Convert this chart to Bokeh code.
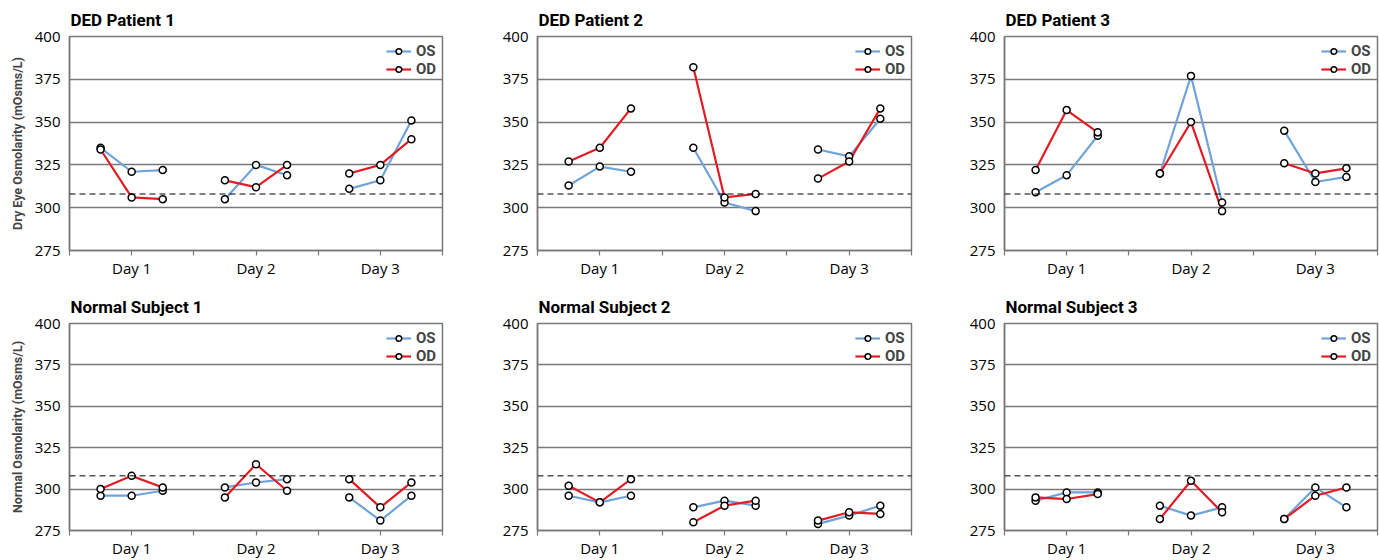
from bokeh.plotting import figure
from bokeh.layouts import gridplot
from bokeh.models import Range1d, FixedTicker, Span, Legend, LegendItem
from bokeh.embed import file_html
from bokeh.resources import INLINE

# ---------------- data ----------------
days = ["Day 1", "Day 2", "Day 3"]
readings_per_day = 3
y_ticks = [275, 300, 325, 350, 375, 400]
threshold = 308

titles = ["DED Patient 1", "DED Patient 2", "DED Patient 3",
          "Normal Subject 1", "Normal Subject 2", "Normal Subject 3"]
row_labels = ["Dry Eye Osmolarity (mOsms/L)", "Normal Osmolarity (mOsms/L)"]
series_names = ["OS", "OD"]

# three readings per day, Day 1..Day 3
ded1_os = [335, 321, 322, 305, 325, 319, 311, 316, 351]
ded1_od = [334, 306, 305, 316, 312, 325, 320, 325, 340]
ded2_os = [313, 324, 321, 335, 303, 298, 334, 330, 352]
ded2_od = [327, 335, 358, 382, 306, 308, 317, 327, 358]
ded3_os = [309, 319, 342, 320, 377, 303, 345, 315, 318]
ded3_od = [322, 357, 344, 320, 350, 298, 326, 320, 323]
norm1_os = [296, 296, 299, 301, 304, 306, 295, 281, 296]
norm1_od = [300, 308, 301, 295, 315, 299, 306, 289, 304]
norm2_os = [296, 292, 296, 289, 293, 290, 279, 284, 290]
norm2_od = [302, 292, 306, 280, 290, 293, 281, 286, 285]
norm3_os = [293, 298, 298, 290, 284, 289, 282, 301, 289]
norm3_od = [295, 294, 297, 282, 305, 286, 282, 296, 301]

panel_data = [(ded1_os, ded1_od), (ded2_os, ded2_od), (ded3_os, ded3_od),
              (norm1_os, norm1_od), (norm2_os, norm2_od), (norm3_os, norm3_od)]

# ---------------- style ----------------
BLUE = "#6fa3d9"
RED = "#e31b23"
GRID = "#787878"
COND = "Roboto"
TICKF = "Open Sans"

col_layout = [  # (width, border_left, border_right)
    (497, 69, 55),
    (467, 40, 53),
    (415, 40, 2),
]
row_layout = [  # (height, border_top, border_bottom)
    (280, 36, 30),
    (280, 43, 23),
]


def day_positions(d):
    return [d + (k + 1) / (readings_per_day + 1) for k in range(readings_per_day)]


def make_panel(idx):
    r, c = divmod(idx, 3)
    w, bl, br = col_layout[c]
    h, bt, bb = row_layout[r]
    os_vals, od_vals = panel_data[idx]
    p = figure(width=w, height=h, x_range=Range1d(0, len(days)),
               y_range=Range1d(y_ticks[0], y_ticks[-1]),
               output_backend="svg", toolbar_location=None,
               min_border_left=bl, min_border_right=br,
               min_border_top=bt, min_border_bottom=bb)
    p.background_fill_color = "white"
    p.border_fill_color = "white"
    p.outline_line_color = GRID
    p.outline_line_width = 1.5

    # title
    p.title.text = titles[idx]
    p.title.text_font = COND
    p.title.text_font_style = "bold"
    p.title.text_font_size = "17px"
    p.title.align = "left"
    p.title.text_color = "black"
    p.title.offset = 1
    p.title.standoff = 13

    # axes
    ticks = [i * 0.5 for i in range(2 * len(days) + 1)]
    p.xaxis.ticker = FixedTicker(ticks=ticks)
    overrides = {t: "" for t in ticks}
    for d, name in enumerate(days):
        overrides[d + 0.5] = name
    p.xaxis.major_label_overrides = overrides
    p.xaxis.major_tick_out = 5
    p.xaxis.major_tick_in = 0
    p.xaxis.minor_tick_line_color = None
    p.xaxis.axis_line_color = GRID
    p.xaxis.axis_line_width = 1.5
    p.xaxis.major_tick_line_color = GRID
    p.xaxis.major_tick_line_width = 1.2
    p.xaxis.major_label_text_font = TICKF
    p.xaxis.major_label_text_font_size = "15px"
    p.xaxis.major_label_text_color = "black"
    p.xaxis.major_label_standoff = 2

    p.yaxis.ticker = FixedTicker(ticks=y_ticks)
    p.yaxis.major_tick_out = 0
    p.yaxis.major_tick_in = 0
    p.yaxis.minor_tick_line_color = None
    p.yaxis.axis_line_color = GRID
    p.yaxis.axis_line_width = 1.5
    p.yaxis.major_label_text_font = TICKF
    p.yaxis.major_label_text_font_size = "15px"
    p.yaxis.major_label_text_color = "black"
    p.yaxis.major_label_standoff = 9
    if c == 0:
        p.yaxis.axis_label = row_labels[r]
        p.yaxis.axis_label_text_font = COND
        p.yaxis.axis_label_text_font_style = "bold"
        p.yaxis.axis_label_text_font_size = "12.5px"
        p.yaxis.axis_label_standoff = 7

    p.xgrid.grid_line_color = None
    p.ygrid.ticker = FixedTicker(ticks=y_ticks[1:-1])
    p.ygrid.grid_line_color = GRID
    p.ygrid.grid_line_width = 1.6

    p.add_layout(Span(location=threshold, dimension="width", line_color="black",
                      line_width=1, line_dash="6 4"))

    xs = [day_positions(d) for d in range(len(days))]
    items = []
    rends = {}
    for name, vals, color in (("OS", os_vals, BLUE), ("OD", od_vals, RED)):
        ys = [vals[d * readings_per_day:(d + 1) * readings_per_day] for d in range(len(days))]
        lr = p.multi_line(xs=xs, ys=ys, line_color=color, line_width=2.2)
        rends[name] = [lr, ys]
    for name in ("OS", "OD"):
        lr, ys = rends[name]
        flat_x = [x for xx in xs for x in xx]
        flat_y = [y for yy in ys for y in yy]
        sr = p.scatter(x=flat_x, y=flat_y, marker="circle", size=7,
                       fill_color="white", line_color="black", line_width=1.5)
        items.append(LegendItem(label=name, renderers=[lr, sr]))

    legend = Legend(items=items, location="top_right",
                    border_line_color=None, background_fill_alpha=0,
                    label_text_font=COND, label_text_font_style="bold",
                    label_text_font_size="15px", label_height=14,
                    glyph_width=25, glyph_height=14, spacing=-1,
                    padding=1, margin=6, label_standoff=5)
    p.add_layout(legend)
    return p


panels = [make_panel(i) for i in range(6)]
grid = gridplot([panels[0:3], panels[3:6]], toolbar_location=None)

open("out.html", "w").write(file_html(grid, INLINE))
